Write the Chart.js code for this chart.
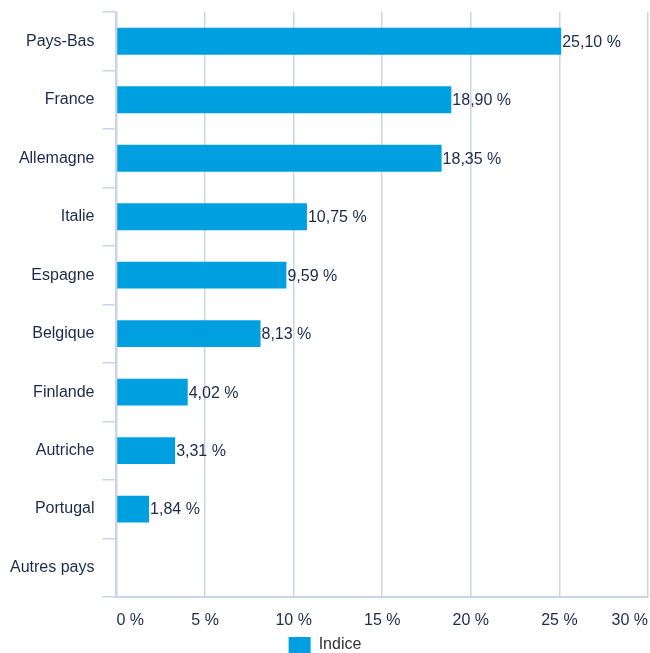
<!DOCTYPE html>
<html>
<head>
<meta charset="utf-8">
<script src="https://cdn.jsdelivr.net/npm/chart.js@4/dist/chart.umd.min.js"></script>
<style>
  html, body { margin:0; padding:0; background:#fff; }
  #wrap { width:650px; height:653px; }
</style>
</head>
<body>
<div id="wrap"><canvas id="chart"></canvas></div>
<script>
// ── Données ─────────────────────────────────────────
const countries = ['Pays-Bas','France','Allemagne','Italie','Espagne','Belgique','Finlande','Autriche','Portugal','Autres pays'];
const indiceValues = [25.10, 18.90, 18.35, 10.75, 9.59, 8.13, 4.02, 3.31, 1.84, 0];
const xTicks = [0, 5, 10, 15, 20, 25, 30];

const textColor = '#1b2a4a';
const gridColor = '#c9d5e6';
const barColor = '#009fdf';

const fmt = v => v.toFixed(2).replace('.', ',') + ' %';

// étiquettes de valeur au bout des barres
const valueLabels = {
    id: 'valueLabels',
    afterDatasetsDraw(chart) {
        const ctx = chart.ctx;
        const meta = chart.getDatasetMeta(0);
        ctx.save();
        ctx.font = "16px 'Liberation Sans', Arial, sans-serif";
        ctx.fillStyle = textColor;
        ctx.textAlign = 'left';
        ctx.textBaseline = 'middle';
        meta.data.forEach((bar, i) => {
            const v = indiceValues[i];
            if (!v) return;
            ctx.fillText(fmt(v), bar.x + 1, bar.y + 1);
        });
        ctx.restore();
    }
};

Chart.defaults.font.family = "'Liberation Sans', Arial, sans-serif";
Chart.defaults.font.size = 16;
Chart.defaults.color = textColor;

new Chart(document.getElementById('chart'), {
    type: 'bar',
    data: {
        labels: countries,
        datasets: [
            { label:'Indice', data: indiceValues, backgroundColor: barColor, borderWidth:0, categoryPercentage:1, barPercentage:0.46 }
        ]
    },
    options: {
        indexAxis: 'y',
        responsive:true, maintainAspectRatio:false, animation:false,
        layout: { padding: { left:2, top:12, right:2, bottom:-10 } },
        plugins: {
            legend: { position:'bottom', labels:{ boxWidth:22, boxHeight:16, padding:2, color:'#333', font:{size:16} } },
            tooltip: { enabled:false }
        },
        scales: {
            x: {
                min:0, max:30,
                afterBuildTicks: s => { s.ticks = xTicks.map(v => ({ value:v })); },
                afterFit: s => { s.paddingRight = 0; s.height -= 9; },
                ticks: { callback: v => v + ' %', padding:14, align:'inner' },
                grid: { color:gridColor, lineWidth:1.5, drawTicks:false },
                border: { color:gridColor, width:2 }
            },
            y: {
                afterFit: s => { s.paddingTop = 0; s.paddingBottom = 0; },
                ticks: { padding:8 },
                grid: { color:gridColor, lineWidth:1.5, drawOnChartArea:false, tickLength:14, offset:true },
                border: { color:gridColor, width:2 }
            }
        }
    },
    plugins: [valueLabels]
});
</script>
</body>
</html>
